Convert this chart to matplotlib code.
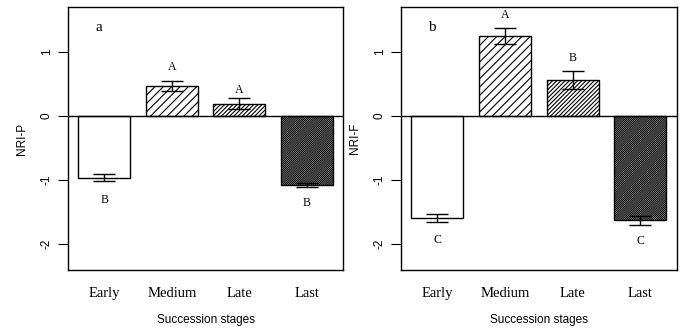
import matplotlib
matplotlib.use("Agg")
import matplotlib.pyplot as plt
import numpy as np

plt.rcParams['hatch.linewidth'] = 0.8

stages = ["Early", "Medium", "Late", "Last"]
nri_p = [-0.97, 0.47, 0.19, -1.08]
nri_p_se = [0.055, 0.08, 0.085, 0.035]
nri_p_letters = ["B", "A", "A", "B"]
nri_p_letter_y = [-1.31, 0.77, 0.40, -1.37]

nri_f = [-1.60, 1.25, 0.56, -1.635]
nri_f_se = [0.065, 0.13, 0.145, 0.07]
nri_f_letters = ["C", "A", "B", "C"]
nri_f_letter_y = [-1.94, 1.57, 0.90, -1.95]

hatches = [None, "////", "////////", "////////////////"]
positions = [0, 1.3, 2.6, 3.9]

fig = plt.figure(figsize=(6.93, 3.35), dpi=100)
axA = fig.add_axes([0.0981, 0.194, 0.397, 0.785])
axB = fig.add_axes([0.5786, 0.194, 0.398, 0.785])

serif = "Liberation Serif"
sans = "Liberation Sans"

def draw(ax, vals, se, letters, ly, panel, ylabel):
    for x, v, s, h in zip(positions, vals, se, hatches):
        ax.bar(x, v, width=1.0, facecolor="white", edgecolor="black",
               linewidth=1.0, hatch=h, zorder=2)
        ax.errorbar(x, v, yerr=s, fmt="none", ecolor="black",
                    elinewidth=1.0, capsize=8, capthick=1.0, zorder=3)
    ax.axhline(0, color="black", linewidth=1.0, zorder=4)
    for x, t, y in zip(positions, letters, ly):
        ax.text(x, y, t, ha="center", va="center", fontsize=8.5,
                family=serif)
    ax.set_xlim(-0.7, 4.6)
    ax.set_ylim(-2.41, 1.70)
    ax.set_yticks([-2, -1, 0, 1])
    ax.set_yticklabels(["-2", "-1", "0", "1"], rotation=90, va="center",
                       family=sans, fontsize=8.5)
    ax.tick_params(axis="y", length=7, width=0.8, pad=4)
    ax.set_xticks(positions)
    ax.set_xticklabels(stages, family=serif, fontsize=10.5)
    ax.tick_params(axis="x", length=0, pad=12)
    ax.set_xlabel("Succession stages", family=sans, fontsize=8.5, labelpad=10)
    ax.set_ylabel(ylabel, family=sans, fontsize=8.5, labelpad=9)
    ax.text(-0.1, 1.38, panel, family=serif, fontsize=11, ha="center",
            va="center")
    for sp in ax.spines.values():
        sp.set_linewidth(1.0)

draw(axA, nri_p, nri_p_se, nri_p_letters, nri_p_letter_y, "a", "NRI-P")
draw(axB, nri_f, nri_f_se, nri_f_letters, nri_f_letter_y, "b", "NRI-F")

fig.savefig("out.png", dpi=100)
